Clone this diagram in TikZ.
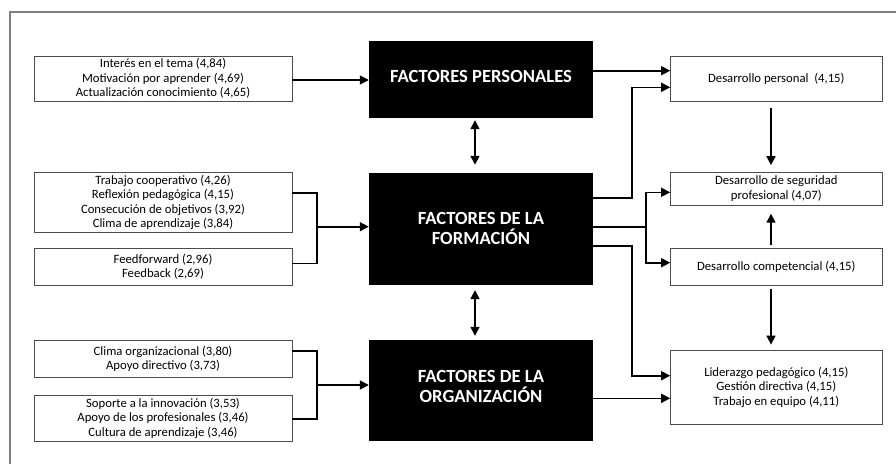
\documentclass[tikz,border=0pt]{standalone}
\usepackage{fontspec}
\setmainfont{Carlito}
\usetikzlibrary{arrows.meta}
\begin{document}
\begin{tikzpicture}[x=1pt,y=-1pt,
  wbox/.style={draw=black!70, line width=0.9pt, fill=white, align=center, font=\fontsize{12.7}{14.5}\selectfont, inner sep=0pt},
  bbox/.style={fill=black, inner sep=0pt, minimum width=224pt},
  btext/.style={text=white, align=center, font=\fontsize{18.6}{20}\selectfont\bfseries, inner sep=0pt},
  conn/.style={line width=1.6pt, -{Triangle[length=9pt,width=9pt]}},
  dconn/.style={line width=1.6pt, {Triangle[length=9pt,width=9pt]}-{Triangle[length=9pt,width=9pt]}},
  plain/.style={line width=1.6pt}
]
\useasboundingbox (0,0) rectangle (896,464);
\draw[black!50, line width=1.2pt] (896,12) -- (10,12) -- (10,464);

% left boxes
\node[wbox, minimum width=258pt, minimum height=45pt] (L1) at (163,78.5) {Interés en el tema (4,84)\\Motivación por aprender (4,69)\\Actualización conocimiento (4,65)};
\node[wbox, minimum width=258pt, minimum height=59.6pt] (L2) at (163,202.5) {Trabajo cooperativo (4,26)\\Reflexión pedagógica (4,15)\\Consecución de objetivos (3,92)\\Clima de aprendizaje (3,84)};
\node[wbox, minimum width=258pt, minimum height=36.3pt] (L3) at (163,266.8) {Feedforward (2,96)\\Feedback (2,69)};
\node[wbox, minimum width=258pt, minimum height=37.7pt] (L4) at (163,358.8) {Clima organizacional (3,80)\\Apoyo directivo (3,73)};
\node[wbox, minimum width=258pt, minimum height=46.7pt] (L5) at (163,418.3) {Soporte a la innovación (3,53)\\Apoyo de los profesionales (3,46)\\Cultura de aprendizaje (3,46)};

% black boxes
\node[bbox, minimum height=77pt] (B1) at (481,79.5) {};
\node[btext] (T1) at (481,76.5) {FACTORES PERSONALES};
\node[bbox, minimum height=112.3pt] (B2) at (481,228.8) {};
\node[btext] (T2) at (481,228) {FACTORES DE LA\\FORMACIÓN};
\node[bbox, minimum height=101pt] (B3) at (481,390.5) {};
\node[btext] (T3) at (481,386.5) {FACTORES DE LA\\ORGANIZACIÓN};

% right boxes
\node[wbox, minimum width=211.3pt, minimum height=45pt] (R1) at (776.3,78.5) {Desarrollo personal~ (4,15)};
\node[wbox, minimum width=211.3pt, minimum height=32.3pt] (R2) at (776.3,188.8) {Desarrollo de seguridad\\profesional (4,07)};
\node[wbox, minimum width=211.3pt, minimum height=36.3pt] (R3) at (776.3,266.8) {Desarrollo competencial (4,15)};
\node[wbox, minimum width=211.3pt, minimum height=74.3pt] (R4) at (776.3,387.2) {Liderazgo pedagógico (4,15)\\Gestión directiva (4,15)\\Trabajo en equipo (4,11)};

% left to black
\draw[conn] (L1.east |- 0,80) -- (B1.west |- 0,80);
\coordinate (bf) at (317,226.7);
\draw[plain] (L2.east |- 0,192.7) -- (317,192.7) -- (317,263.3) -- (L3.east |- 0,263.3);
\draw[conn] (bf) -- (B2.west |- bf);
\coordinate (bo) at (317,385);
\draw[plain] (L4.east |- 0,351) -- (317,351) -- (317,419) -- (L5.east |- 0,419);
\draw[conn] (bo) -- (B3.west |- bo);

% black to black
\draw[dconn] ([xshift=-6pt,yshift=-2pt]B1.south) -- ([xshift=-6pt,yshift=7.7pt]B2.north);
\draw[dconn] ([xshift=-6pt,yshift=-5pt]B2.south) -- ([xshift=-6pt,yshift=4pt]B3.north);

% black to right
\draw[conn] (B1.east |- 0,70.7) -- (R1.west |- 0,70.7);
\draw[conn] (B2.east |- 0,197.7) -- (631.7,197.7) -- (631.7,87.3) -- (R1.west |- 0,87.3);
\coordinate (s) at (645.7,226.7);
\draw[plain] (B2.east |- s) -- (s);
\draw[conn] (s) |- (R2.west |- 0,192.3);
\draw[conn] (s) |- (R3.west |- 0,262.7);
\draw[conn] (B2.east |- 0,245.7) -- (631.7,245.7) -- (631.7,375.7) -- (R4.west |- 0,375.7);
\draw[conn] (B3.east |- 0,398.3) -- (R4.west |- 0,398.3);

% right verticals
\draw[conn] ([xshift=-5.3pt,yshift=-6.3pt]R1.south) -- ([xshift=-5.3pt,yshift=7pt]R2.north);
\draw[conn] ([xshift=-5.3pt,yshift=3.7pt]R3.north) -- ([xshift=-5.3pt,yshift=-8.3pt]R2.south);
\draw[conn] ([xshift=-5.3pt,yshift=-4pt]R3.south) -- ([xshift=-5.3pt,yshift=5pt]R4.north);
\end{tikzpicture}
\end{document}
